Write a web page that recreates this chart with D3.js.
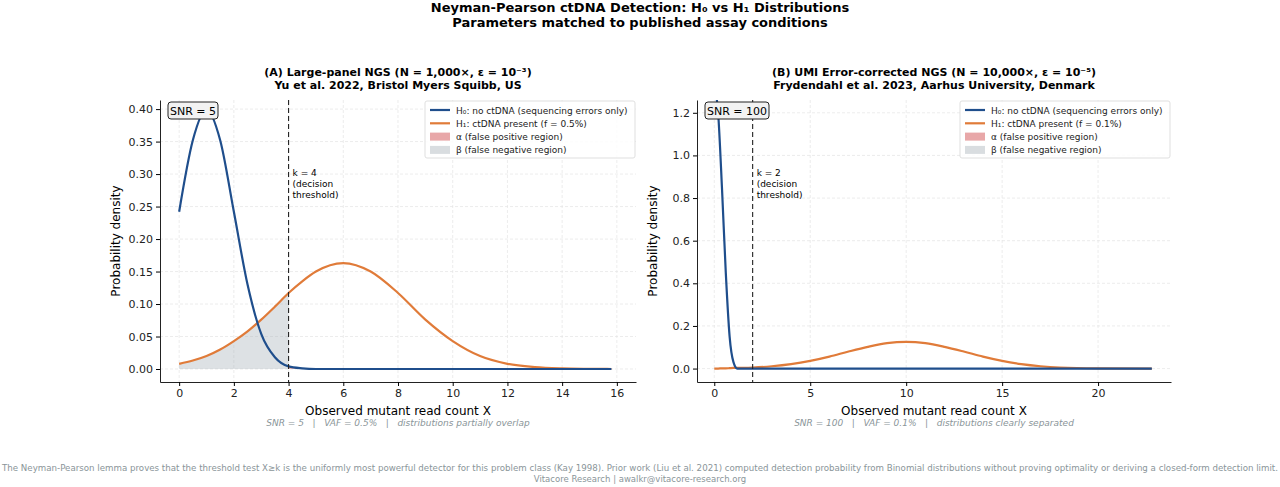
<!DOCTYPE html>
<html><head><meta charset="utf-8">
<script src="https://cdn.jsdelivr.net/npm/d3@7"></script>
<style>
body{margin:0;background:#fff;font-family:"DejaVu Sans",sans-serif}
text{font-family:"DejaVu Sans",sans-serif}
</style></head><body>
<svg id="chart" width="1280" height="487"></svg>
<script>
// panel A values
const xA = [0,0.5,1,1.5,2,2.5,3,3.5,4,4.5,5,6,7,8,9,10,11,12,13,14,15,15.8];
const h0A = [0.242,0.352,0.399,0.352,0.242,0.130,0.054,0.018,0.004,0.001,0,0,0,0,0,0,0,0,0,0,0,0];
const h1A = [0.008,0.013,0.020,0.030,0.043,0.058,0.076,0.096,0.117,0.135,0.150,0.163,0.150,0.117,0.076,0.043,0.020,0.008,0.003,0.001,0.0003,0];
// panel B
const xB = [0,0.2,0.4,0.6,0.8,1,1.2,2,3,4,5,6,7,8,9,10,11,12,13,14,15,16,17,18,20,22.8];
const h0B = [1.33,1.2,0.85,0.45,0.15,0.03,0,0,0,0,0,0,0,0,0,0,0,0,0,0,0,0,0,0,0,0];
const h1B = [0,0,0.001,0.001,0.002,0.003,0.003,0.005,0.011,0.021,0.036,0.056,0.080,0.102,0.119,0.125,0.119,0.102,0.080,0.056,0.036,0.021,0.011,0.005,0.001,0];
const ticksA = [0,2,4,6,8,10,12,14,16], yticksA = [0,0.05,0.1,0.15,0.2,0.25,0.3,0.35,0.4];
const ticksB = [0,5,10,15,20], yticksB = [0,0.2,0.4,0.6,0.8,1.0,1.2];

const svg = d3.select("#chart");
const blue = "#1f4e8c", orange = "#e07b39";

svg.append("text").attr("x",640).attr("y",12).attr("text-anchor","middle")
  .attr("font-size",13).attr("font-weight","bold").text("Neyman-Pearson ctDNA Detection: H₀ vs H₁ Distributions");
svg.append("text").attr("x",640).attr("y",27).attr("text-anchor","middle")
  .attr("font-size",13).attr("font-weight","bold").text("Parameters matched to published assay conditions");

function panel(o) {
    const x = d3.scaleLinear().domain(o.xd).range([o.x0,o.x1]);
    const y = d3.scaleLinear().domain(o.yd).range([o.y1,o.y0]);
    const g = svg.append("g");
    const id = "clip" + o.k;
    g.append("clipPath").attr("id",id).append("rect")
      .attr("x",o.x0).attr("y",o.y0).attr("width",o.x1-o.x0).attr("height",o.y1-o.y0);
    // grid
    g.selectAll(".gx").data(o.xt).join("line").attr("x1",d=>x(d)).attr("x2",d=>x(d))
      .attr("y1",o.y0).attr("y2",o.y1).attr("stroke","#e4e4e4").attr("stroke-dasharray","3,2").attr("stroke-width",0.7);
    g.selectAll(".gy").data(o.yt).join("line").attr("y1",d=>y(d)).attr("y2",d=>y(d))
      .attr("x1",o.x0).attr("x2",o.x1).attr("stroke","#e4e4e4").attr("stroke-dasharray","3,2").attr("stroke-width",0.7);
    const c = g.append("g").attr("clip-path",`url(#${id})`);
    const pts = (xs,ys) => xs.map((v,i)=>[v,ys[i]]);
    const betaPts = pts(o.xs,o.h1).filter(d=>d[0]<=o.k);
    c.append("path").datum(betaPts)
      .attr("d",d3.area().x(d=>x(d[0])).y0(y(0)).y1(d=>y(d[1])).curve(d3.curveMonotoneX))
      .attr("fill","#a9b4bb").attr("opacity",0.4);
    const alphaPts = pts(o.xs,o.h0).filter(d=>d[0]>=o.k);
    c.append("path").datum(alphaPts)
      .attr("d",d3.area().x(d=>x(d[0])).y0(y(0)).y1(d=>y(d[1])).curve(d3.curveMonotoneX))
      .attr("fill","#d9534f").attr("opacity",0.4);
    const line = d3.line().x(d=>x(d[0])).y(d=>y(d[1])).curve(d3.curveMonotoneX);
    c.append("path").datum(pts(o.xs,o.h1)).attr("d",line).attr("fill","none").attr("stroke",orange).attr("stroke-width",2.2);
    c.append("path").datum(pts(o.xs,o.h0)).attr("d",line).attr("fill","none").attr("stroke",blue).attr("stroke-width",2.2);
    g.append("line").attr("x1",x(o.k)).attr("x2",x(o.k)).attr("y1",o.y0).attr("y2",o.y1)
      .attr("stroke","#222").attr("stroke-dasharray","5,3").attr("stroke-width",1.1);
    const kt = g.append("text").attr("x",x(o.k)+4).attr("y",o.kty).attr("font-size",9);
    ["k = "+o.k,"(decision","threshold)"].forEach((s,i)=>kt.append("tspan").attr("x",x(o.k)+4).attr("dy",i?11:0).text(s));
    // axes
    g.append("g").attr("transform",`translate(0,${o.y1})`)
      .call(d3.axisBottom(x).tickValues(o.xt).tickSize(4).tickSizeOuter(0).tickFormat(d=>d))
      .call(a=>a.selectAll("text").attr("font-size",11).attr("fill","#222"));
    g.append("g").attr("transform",`translate(${o.x0},0)`)
      .call(d3.axisLeft(y).tickValues(o.yt).tickSize(4).tickSizeOuter(0).tickFormat(o.yf))
      .call(a=>a.selectAll("text").attr("font-size",11).attr("fill","#222"));
    g.selectAll(".domain").attr("stroke","#222");
    g.append("text").attr("x",(o.x0+o.x1)/2).attr("y",o.y1+33).attr("text-anchor","middle").attr("font-size",12).text("Observed mutant read count X");
    g.append("text").attr("transform",`translate(${o.x0-40},${(o.y0+o.y1)/2}) rotate(-90)`)
      .attr("text-anchor","middle").attr("font-size",12).text("Probability density");
    g.append("text").attr("x",(o.x0+o.x1)/2).attr("y",o.y1+44).attr("text-anchor","middle").attr("font-size",9)
      .attr("font-style","italic").attr("fill","#8a9599").attr("xml:space","preserve").text(o.note);
    // titles
    g.append("text").attr("x",(o.x0+o.x1)/2).attr("y",76).attr("text-anchor","middle").attr("font-size",11).attr("font-weight","bold").text(o.t1);
    g.append("text").attr("x",(o.x0+o.x1)/2).attr("y",89).attr("text-anchor","middle").attr("font-size",11).attr("font-weight","bold").text(o.t2);
    // SNR box
    const sb = g.append("g").attr("transform",`translate(${o.x0+8},${o.y0+2})`);
    sb.append("rect").attr("width",o.snrW).attr("height",17).attr("rx",3).attr("fill","#f2f2f2").attr("stroke","#222");
    sb.append("text").attr("x",o.snrW/2).attr("y",13).attr("text-anchor","middle").attr("font-size",11).text(o.snr);
    // legend
    const lg = g.append("g").attr("transform",`translate(${o.x1-211},${o.y0+1})`);
    lg.append("rect").attr("width",210).attr("height",57).attr("rx",2).attr("fill","#fff").attr("stroke","#ddd").attr("opacity",0.9);
    const items = [["line",blue,"H₀: no ctDNA (sequencing errors only)"],["line",orange,o.h1lab],
      ["rect","#e8a7a8","α (false positive region)"],["rect","#d9dde0","β (false negative region)"]];
    items.forEach((it,i)=>{
        const yy = 9 + i*13.3;
        if (it[0]==="line") lg.append("line").attr("x1",5).attr("x2",25).attr("y1",yy).attr("y2",yy).attr("stroke",it[1]).attr("stroke-width",2.2);
        else lg.append("rect").attr("x",5).attr("y",yy-4).attr("width",20).attr("height",8).attr("fill",it[1]);
        lg.append("text").attr("x",31).attr("y",yy+3.5).attr("font-size",9).attr("fill","#222").text(it[2]);
    });
}

panel({k:4, xs:xA, h0:h0A, h1:h1A, xd:[-0.7,16.7], yd:[-0.02,0.414], x0:160, x1:636, y0:100, y1:382,
  xt:ticksA, yt:yticksA, yf:d3.format(".2f"), kty:176, snr:"SNR = 5", snrW:50,
  h1lab:"H₁: ctDNA present (f = 0.5%)",
  t1:"(A) Large-panel NGS  (N = 1,000×, ε = 10⁻³)", t2:"Yu et al. 2022, Bristol Myers Squibb, US",
  note:"SNR = 5   |   VAF = 0.5%   |   distributions partially overlap"});
panel({k:2, xs:xB, h0:h0B, h1:h1B, xd:[-0.9,23.8], yd:[-0.063,1.26], x0:697, x1:1171, y0:100, y1:382,
  xt:ticksB, yt:yticksB, yf:d3.format(".1f"), kty:176, snr:"SNR = 100", snrW:64,
  h1lab:"H₁: ctDNA present (f = 0.1%)",
  t1:"(B) UMI Error-corrected NGS  (N = 10,000×, ε = 10⁻⁵)", t2:"Frydendahl et al. 2023, Aarhus University, Denmark",
  note:"SNR = 100   |   VAF = 0.1%   |   distributions clearly separated"});

svg.append("text").attr("x",640).attr("y",471).attr("text-anchor","middle").attr("font-size",8.5).attr("fill","#8a9599")
  .attr("textLength",1276).attr("lengthAdjust","spacingAndGlyphs")
  .text("The Neyman-Pearson lemma proves that the threshold test X≥k is the uniformly most powerful detector for this problem class (Kay 1998). Prior work (Liu et al. 2021) computed detection probability from Binomial distributions without proving optimality or deriving a closed-form detection limit.");
svg.append("text").attr("x",640).attr("y",482).attr("text-anchor","middle").attr("font-size",8.5).attr("fill","#8a9599")
  .text("Vitacore Research | awalkr@vitacore-research.org");
</script></body></html>
